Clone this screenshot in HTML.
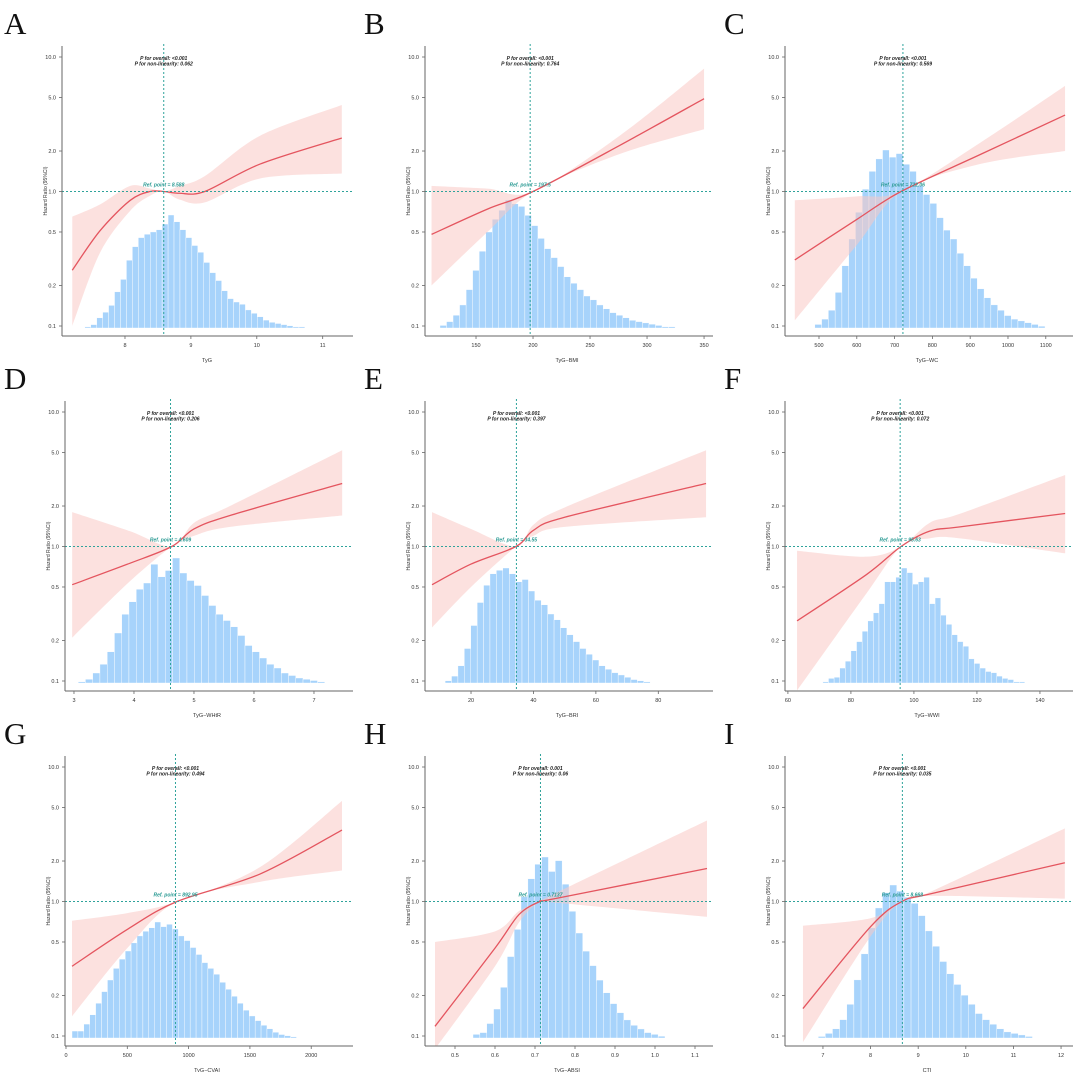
<!DOCTYPE html>
<html><head><meta charset="utf-8"><style>
html,body{margin:0;padding:0;background:#fff;}
svg{display:block;font-family:"Liberation Sans",sans-serif;}
</style></head><body>
<svg id="fig" width="1080" height="1072" viewBox="0 0 1080 1072"></svg>
<script>
// ---- data per panel ----
const letters = ["A","B","C","D","E","F","G","H","I"];
const xTitles = ["TyG","TyG−BMI","TyG−WC","TyG−WHtR","TyG−BRI","TyG−WWI","TyG−CVAI","TyG−ABSI","CTI"];
const domains = [[7.196,11.293],[111.4,348.2],[428.6,1142.9],[2.967,7.467],[7.5,94.0],[61.3,147.0],[49,2251],[0.4425,1.1175],[6.35,12.02]];
const xTicks = [[8,9,10,11],[150,200,250,300,350],[500,600,700,800,900,1000,1100],[3,4,5,6,7],[20,40,60,80],[60,80,100,120,140],[0,500,1000,1500,2000],[0.5,0.6,0.7,0.8,0.9,1.0,1.1],[7,8,9,10,11,12]];
const xTickLabels = [["8","9","10","11"],["150","200","250","300","350"],["500","600","700","800","900","1000","1100"],["3","4","5","6","7"],["20","40","60","80"],["60","80","100","120","140"],["0","500","1000","1500","2000"],["0.5","0.6","0.7","0.8","0.9","1.0","1.1"],["7","8","9","10","11","12"]];
const refValues = [8.588,197.5,722.06,4.609,34.55,95.63,892.95,0.7137,8.668];
const refLabels = ["Ref. point = 8.588","Ref. point = 197.5","Ref. point = 722.06","Ref. point = 4.609","Ref. point = 34.55","Ref. point = 95.63","Ref. point = 892.95","Ref. point = 0.7137","Ref. point = 8.668"];
const pOverall = ["P for overall: <0.001","P for overall: <0.001","P for overall: <0.001","P for overall: <0.001","P for overall: <0.001","P for overall: <0.001","P for overall: <0.001","P for overall: 0.001","P for overall: <0.001"];
const pNonlin = ["P for non-linearity: 0.062","P for non-linearity: 0.764","P for non-linearity: 0.569","P for non-linearity: 0.206","P for non-linearity: 0.397","P for non-linearity: 0.072","P for non-linearity: 0.494","P for non-linearity: 0.06","P for non-linearity: 0.035"];
const yTicks = [10,5,2,1,0.5,0.2,0.1];
const yTickLabels = ["10.0","5.0","2.0","1.0","0.5","0.2","0.1"];
// curve x values, HR, lower, upper
const curveX = [
 [7.2,7.62,8.08,8.38,8.59,8.83,9.21,10.05,11.29],
 [111,160,200,276,350],
 [436,600,717,926,1151],
 [2.97,3.93,4.63,5.0,5.6,7.47],
 [7.5,20,34.4,40,50,95.3],
 [62.9,85,95.9,105,114.6,148],
 [49,500,905,1582,2251],
 [0.45,0.6,0.66,0.7125,0.75,1.13],
 [6.58,8.0,8.66,9.3,12.08]];
const curveHR = [
 [0.26,0.51,0.86,1.0,1.0,0.97,1.0,1.6,2.5],
 [0.48,0.74,1.0,2.2,4.9],
 [0.31,0.62,1.0,1.88,3.7],
 [0.52,0.75,1.0,1.35,1.7,2.94],
 [0.52,0.74,1.0,1.32,1.65,2.94],
 [0.28,0.62,1.0,1.3,1.4,1.76],
 [0.33,0.62,1.0,1.6,3.4],
 [0.118,0.45,0.8,1.0,1.05,1.76],
 [0.16,0.65,1.0,1.15,1.94]];
const curveLo = [
 [0.1,0.35,0.72,0.93,1.0,0.87,0.83,1.25,1.36],
 [0.2,0.5,1.0,1.9,2.9],
 [0.11,0.4,1.0,1.6,2.0],
 [0.21,0.55,1.0,1.2,1.4,1.7],
 [0.25,0.5,1.0,1.2,1.4,1.65],
 [0.085,0.45,1.0,1.15,1.15,0.89],
 [0.14,0.45,1.0,1.4,1.7],
 [0.08,0.33,0.7,1.0,0.98,0.77],
 [0.09,0.55,1.0,1.1,1.05]];
const curveHi = [
 [0.65,0.8,1.1,1.05,1.0,1.1,1.3,2.6,4.4],
 [1.1,1.05,1.0,2.6,8.2],
 [0.86,0.92,1.0,2.3,6.1],
 [1.8,1.3,1.0,1.5,2.0,5.2],
 [1.8,1.35,1.0,1.45,1.95,5.2],
 [0.93,0.84,1.0,1.5,1.75,3.4],
 [0.72,0.82,1.0,1.8,5.6],
 [0.5,0.6,0.85,1.0,1.15,4.0],
 [0.66,0.75,1.0,1.2,3.5]];
// histograms: data range and relative heights
const histRange = [[7.39,10.73],[118.4,324.6],[489,1098],[3.07,7.18],[11.7,77.4],[71.1,135.2],[49,1880],[0.545,1.025],[6.9,11.4]];
const histPeak = [113,128,178,125,115,115,116,181,153];
const histHeights = [
 [1,3,9,14,20,32,43,60,72,80,83,85,87,92,100,94,87,80,73,67,58,49,42,33,26,23,21,16,13,10,7,5,4,3,2,1,1],
 [2,5,10,18,30,45,60,75,85,92,100,97,95,88,80,70,62,55,48,40,35,30,25,22,18,15,12,10,8,6,5,4,3,2,1,1],
 [2,5,10,20,35,50,65,78,88,95,100,96,98,92,88,80,75,70,62,55,50,42,35,28,22,17,13,10,7,5,4,3,2,1],
 [1,3,8,15,25,40,55,65,75,80,95,85,90,100,88,82,78,70,62,55,50,45,38,30,25,20,15,12,8,6,4,3,2,1],
 [2,6,15,30,50,70,85,95,98,100,95,88,90,80,72,68,60,55,48,42,36,30,25,20,15,12,9,7,5,3,2,1],
 [1,4,5,13,19,28,36,45,54,61,69,88,88,92,100,96,86,88,92,69,74,59,51,42,36,32,21,17,13,10,9,6,4,3,1,1],
 [6,6,12,20,30,40,50,60,68,75,82,88,92,95,100,96,98,94,88,84,78,72,65,60,55,48,42,36,30,24,19,15,11,8,5,3,2,1],
 [2,3,8,16,28,45,60,78,88,96,100,92,98,85,70,58,48,40,32,25,19,14,10,7,5,3,2,1],
 [1,3,6,12,22,38,55,72,85,95,100,96,92,88,80,70,60,50,42,35,28,22,16,12,9,6,4,3,2,1]];

const NS="http://www.w3.org/2000/svg";
const svg=document.getElementById('fig');
function mk(tag,attrs,parent){const e=document.createElementNS(NS,tag);for(const k in attrs)e.setAttribute(k,attrs[k]);parent.appendChild(e);return e;}
function yS(hr){return 191.5-134.5*Math.log10(hr);}
function smooth(pts){
  let d="M"+pts[0][0].toFixed(2)+","+pts[0][1].toFixed(2);
  for(let i=0;i<pts.length-1;i++){
    const p0=pts[Math.max(0,i-1)],p1=pts[i],p2=pts[i+1],p3=pts[Math.min(pts.length-1,i+2)];
    const t=0.16;
    const c1=[p1[0]+(p2[0]-p0[0])*t,p1[1]+(p2[1]-p0[1])*t];
    const c2=[p2[0]-(p3[0]-p1[0])*t,p2[1]-(p3[1]-p1[1])*t];
    d+=" C"+c1[0].toFixed(2)+","+c1[1].toFixed(2)+" "+c2[0].toFixed(2)+","+c2[1].toFixed(2)+" "+p2[0].toFixed(2)+","+p2[1].toFixed(2);
  }
  return d;
}
function ptsFrom(xs,ys,xS){return xs.map((x,i)=>[xS(x),yS(ys[i])]);}

for(let p=0;p<9;p++){
  const ox=(p%3)*360, oy=Math.floor(p/3)*355;
  const g=mk('g',{transform:`translate(${ox},${oy})`},svg);
  
  
  const [d0,d1]=domains[p];
  const xS=v=>72+(v-d0)/(d1-d0)*270;
  const axL = p===0?62:65;
  const cp=mk('clipPath',{id:'clip'+p},g);
  mk('rect',{x:axL,y:40,width:300,height:296},cp);
  const letter=mk('text',{x:4,y:34,'font-family':'"Liberation Serif",serif','font-size':31,fill:'#111'},g);
  letter.textContent=letters[p];
  
  
  const hg=mk('g',{},g);
  
  
  const hs=histHeights[p], [h0,h1]=histRange[p];
  const bw=(h1-h0)/hs.length;
  hs.forEach((h,i)=>{
    const xa=xS(h0+i*bw), xb=xS(h0+(i+1)*bw);
    const hh=h/100*histPeak[p];
    const r=mk('rect',{x:xa,y:328-hh,width:xb-xa,height:hh,fill:'#a7d3fb',stroke:'#ffffff','stroke-width':0.4},hg);
    
    
  });
  const cg=mk('g',{'clip-path':`url(#clip${p})`},g);
  const up=ptsFrom(curveX[p],curveHi[p],xS), lo=ptsFrom(curveX[p],curveLo[p],xS).reverse();
  const bandD=smooth(up)+" L"+lo[0][0]+","+lo[0][1]+" "+smooth(lo).slice(1)+" Z";
  const band=mk('path',{d:bandD,fill:'#f9c9c4','fill-opacity':0.55,stroke:'none'},cg);
  
  
  const line=mk('path',{d:smooth(ptsFrom(curveX[p],curveHR[p],xS)),fill:'none',stroke:'#e4555f','stroke-width':1.3},cg);
  
  
  const rx=xS(refValues[p]);
  const vl=mk('line',{x1:rx,x2:rx,y1:44,y2:336,stroke:'#2fa39b','stroke-width':1,'stroke-dasharray':'2,2'},g);
  
  
  const hl=mk('line',{x1:axL,x2:353,y1:yS(1),y2:yS(1),stroke:'#2fa39b','stroke-width':1,'stroke-dasharray':'2,2'},g);
  
  
  const rl=mk('text',{x:rx,y:yS(1)-5,'text-anchor':'middle','font-size':5,'font-style':'italic','font-weight':'bold',fill:'#2a9a93'},g);
  rl.textContent=refLabels[p];
  
  
  const t1=mk('text',{x:rx,y:60,'text-anchor':'middle','font-size':5,'font-style':'italic','font-weight':'bold',fill:'#222'},g);
  t1.textContent=pOverall[p];
  
  
  const t2=mk('text',{x:rx,y:65.5,'text-anchor':'middle','font-size':5,'font-style':'italic','font-weight':'bold',fill:'#222'},g);
  t2.textContent=pNonlin[p];
  
  
  const ya=mk('line',{x1:axL,x2:axL,y1:46,y2:336,stroke:'#666','stroke-width':1},g);
  
  
  const xa=mk('line',{x1:axL,x2:353,y1:336,y2:336,stroke:'#666','stroke-width':1},g);
  
  
  yTicks.forEach((v,i)=>{
    const y=yS(v);
    mk('line',{x1:axL-3,x2:axL,y1:y,y2:y,stroke:'#666','stroke-width':0.8},g);
    const t=mk('text',{x:axL-6,y:y+2,'text-anchor':'end','font-size':5.5,fill:'#333'},g);
    t.textContent=yTickLabels[i];
    
    
  });
  xTicks[p].forEach((v,i)=>{
    const x=xS(v);
    mk('line',{x1:x,x2:x,y1:336,y2:339,stroke:'#666','stroke-width':0.8},g);
    const t=mk('text',{x:x,y:347,'text-anchor':'middle','font-size':5.5,fill:'#333'},g);
    t.textContent=xTickLabels[p][i];
    
    
  });
  const xt=mk('text',{x:207,y:362,'text-anchor':'middle','font-size':5.5,fill:'#333'},g);
  xt.textContent=xTitles[p];
  
  
  const yt=mk('text',{x:0,y:0,transform:`translate(${axL-15},191) rotate(-90)`,'text-anchor':'middle','font-size':5,fill:'#333'},g);
  yt.textContent="Hazard Ratio (95%CI)";
  
  
}
</script>
</body></html>
